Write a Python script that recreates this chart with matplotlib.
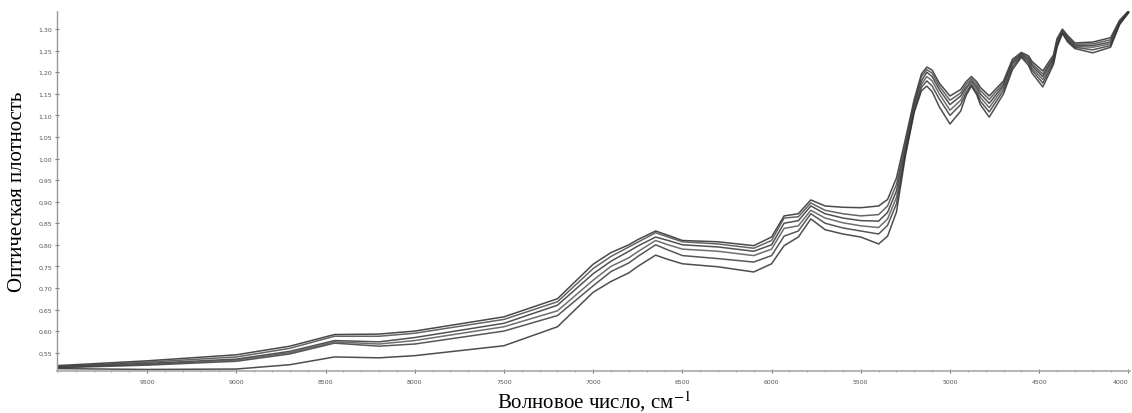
import numpy as np
import matplotlib.pyplot as plt
from matplotlib.ticker import FixedLocator, MultipleLocator, FuncFormatter

wavenumber = [10000, 9500, 9000, 8700, 8450, 8200, 8000, 7500, 7200, 7000,
              6900, 6800, 6750, 6650, 6580, 6500, 6300, 6100, 6000, 5930,
              5850, 5780, 5700, 5600, 5500, 5400, 5350, 5300, 5250, 5200,
              5160, 5130, 5100, 5060, 5000, 4940, 4910, 4880, 4850, 4830,
              4780, 4700, 4650, 4600, 4560, 4540, 4480, 4420, 4400, 4370,
              4340, 4300, 4200, 4100, 4050, 4000]

# six absorbance spectra, top to bottom
spec_1 = [0.520, 0.531, 0.545, 0.565, 0.592, 0.593, 0.600, 0.633, 0.675, 0.755,
          0.782, 0.800, 0.812, 0.832, 0.822, 0.810, 0.807, 0.798, 0.818, 0.867,
          0.872, 0.904, 0.890, 0.887, 0.886, 0.890, 0.905, 0.955, 1.045, 1.138,
          1.196, 1.212, 1.205, 1.175, 1.145, 1.160, 1.178, 1.190, 1.178, 1.165,
          1.145, 1.180, 1.230, 1.246, 1.238, 1.225, 1.203, 1.240, 1.278, 1.300,
          1.285, 1.268, 1.270, 1.280, 1.320, 1.342]
spec_2 = [0.518, 0.528, 0.540, 0.560, 0.588, 0.588, 0.595, 0.627, 0.668, 0.745,
          0.773, 0.795, 0.806, 0.828, 0.818, 0.807, 0.802, 0.792, 0.810, 0.862,
          0.865, 0.897, 0.880, 0.872, 0.867, 0.870, 0.890, 0.940, 1.035, 1.130,
          1.190, 1.206, 1.198, 1.168, 1.135, 1.152, 1.172, 1.185, 1.172, 1.158,
          1.137, 1.175, 1.226, 1.244, 1.234, 1.220, 1.196, 1.236, 1.274, 1.298,
          1.282, 1.265, 1.266, 1.275, 1.318, 1.340]
spec_3 = [0.517, 0.525, 0.535, 0.553, 0.578, 0.575, 0.585, 0.618, 0.660, 0.733,
          0.762, 0.785, 0.797, 0.818, 0.810, 0.800, 0.795, 0.785, 0.800, 0.850,
          0.856, 0.890, 0.872, 0.862, 0.856, 0.855, 0.875, 0.925, 1.025, 1.125,
          1.180, 1.200, 1.190, 1.160, 1.125, 1.145, 1.165, 1.180, 1.166, 1.150,
          1.128, 1.170, 1.222, 1.242, 1.230, 1.215, 1.190, 1.232, 1.270, 1.296,
          1.279, 1.262, 1.262, 1.270, 1.316, 1.340]
spec_4 = [0.516, 0.523, 0.533, 0.550, 0.575, 0.570, 0.578, 0.610, 0.647, 0.718,
          0.750, 0.770, 0.784, 0.810, 0.800, 0.790, 0.785, 0.775, 0.790, 0.838,
          0.844, 0.880, 0.862, 0.851, 0.844, 0.840, 0.860, 0.910, 1.018, 1.118,
          1.172, 1.190, 1.180, 1.150, 1.112, 1.135, 1.160, 1.178, 1.160, 1.142,
          1.118, 1.165, 1.218, 1.240, 1.226, 1.210, 1.183, 1.228, 1.266, 1.294,
          1.276, 1.260, 1.258, 1.266, 1.314, 1.338]
spec_5 = [0.515, 0.521, 0.530, 0.547, 0.572, 0.565, 0.570, 0.600, 0.636, 0.705,
          0.738, 0.758, 0.773, 0.800, 0.788, 0.775, 0.768, 0.760, 0.775, 0.820,
          0.832, 0.872, 0.850, 0.839, 0.832, 0.825, 0.845, 0.895, 1.012, 1.112,
          1.165, 1.180, 1.168, 1.138, 1.100, 1.125, 1.152, 1.172, 1.153, 1.133,
          1.108, 1.158, 1.212, 1.238, 1.222, 1.205, 1.175, 1.224, 1.262, 1.292,
          1.273, 1.258, 1.252, 1.262, 1.312, 1.338]
spec_6 = [0.513, 0.511, 0.512, 0.522, 0.540, 0.538, 0.543, 0.566, 0.610, 0.690,
          0.715, 0.735, 0.750, 0.776, 0.766, 0.756, 0.749, 0.737, 0.756, 0.798,
          0.818, 0.860, 0.835, 0.825, 0.818, 0.802, 0.820, 0.876, 1.006, 1.108,
          1.157, 1.168, 1.155, 1.120, 1.080, 1.110, 1.146, 1.168, 1.148, 1.125,
          1.096, 1.150, 1.206, 1.235, 1.216, 1.198, 1.166, 1.218, 1.258, 1.290,
          1.270, 1.255, 1.245, 1.258, 1.310, 1.338]

spectra = [spec_1, spec_2, spec_3, spec_4, spec_5, spec_6]
line_colors = ['#2a2a2a', '#4a4a4a', '#333333', '#555555', '#3a3a3a', '#2f2f2f']

y_ticks = [0.55, 0.60, 0.65, 0.70, 0.75, 0.80, 0.85, 0.90, 0.95, 1.00,
           1.05, 1.10, 1.15, 1.20, 1.25, 1.30]
x_ticks = [9500, 9000, 8500, 8000, 7500, 7000, 6500, 6000, 5500, 5000, 4500, 4000]

plt.rcParams['mathtext.fontset'] = 'stix'

fig = plt.figure(figsize=(11.32, 4.14), dpi=100)
ax = fig.add_axes([0.0504, 0.101, 0.948, 0.870])

for spec, col in zip(spectra, line_colors):
    ax.plot(wavenumber, spec, color=col, linewidth=1.1, alpha=0.85,
            solid_joinstyle='round')

ax.set_xlim(10005, 3990)
ax.set_ylim(0.507, 1.342)

ax.xaxis.set_major_locator(FixedLocator(x_ticks))
ax.xaxis.set_minor_locator(MultipleLocator(100))
ax.yaxis.set_major_locator(FixedLocator(y_ticks))
ax.yaxis.set_major_formatter(FuncFormatter(lambda v, p: f'{v:.2f}'.replace('.', ',')))
ax.xaxis.set_major_formatter(FuncFormatter(lambda v, p: f'{v:.0f}'))

ax.tick_params(axis='both', which='major', labelsize=4.5, labelcolor='#555555',
               color='#777777', length=3, width=0.8, direction='inout')
ax.tick_params(axis='x', which='minor', color='#888888', length=2, width=0.6,
               direction='inout')
ax.tick_params(axis='x', which='major', pad=4)
ax.tick_params(axis='y', which='major', pad=2)

# last x label sits against the right edge, as in the original
fig.canvas.draw()
ax.get_xticklabels()[-1].set_horizontalalignment('right')

for side in ['top', 'right']:
    ax.spines[side].set_visible(False)
ax.spines['left'].set_color('#999999')
ax.spines['left'].set_linestyle((0, (1, 1)))
ax.spines['left'].set_linewidth(1.0)
ax.spines['bottom'].set_color('#aaaaaa')
ax.spines['bottom'].set_linewidth(1.2)

ax.set_ylabel('Оптическая плотность', family=['Liberation Serif', 'DejaVu Serif'],
              fontsize=15, labelpad=8)
ax.set_xlabel('Волновое число, см$^{-1}$', family=['Liberation Serif', 'DejaVu Serif'],
              fontsize=15, labelpad=3)

plt.savefig('out.png', dpi=100)
